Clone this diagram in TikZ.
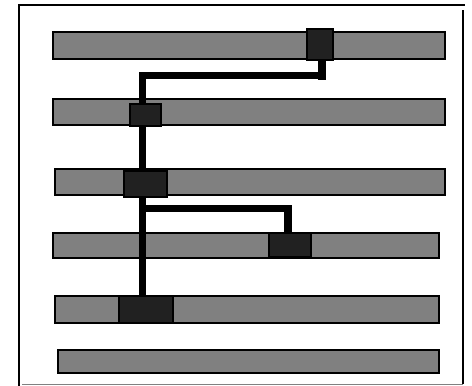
\documentclass[tikz,border=0pt]{standalone}
\pgfdeclarelayer{barlayer}
\pgfdeclarelayer{connlayer}
\pgfsetlayers{barlayer,connlayer,main}
\begin{document}
\begin{tikzpicture}[x=1pt,y=-1pt,
  bar/.style={draw=black,line width=2pt,fill=black!50,rectangle,inner sep=0pt,outer sep=0pt},
  blk/.style={draw=black,line width=2pt,fill=black!87,rectangle,inner sep=0pt,outer sep=0pt},
  conn/.style={draw=black,line width=7.5pt,line join=miter},
  frame/.style={draw=black,line width=2pt}]
\useasboundingbox (0,0) rectangle (472,386);
% frame
\draw[frame] (19,4) -- (19,386);
\draw[frame] (19,5) -- (465,5);
\draw[frame] (463,10) -- (463,384);
\draw[black!50,line width=1pt] (22,384) -- (463,384);
% bars
\begin{pgfonlayer}{barlayer}
\node[bar,minimum width=392pt,minimum height=27pt] (r1) at (249,45.5) {};
\node[bar,minimum width=392pt,minimum height=26.5pt] (r2) at (249,112) {};
\node[bar,minimum width=390pt,minimum height=26pt] (r3) at (250,182) {};
\node[bar,minimum width=386pt,minimum height=25pt] (r4) at (246,245.5) {};
\node[bar,minimum width=384pt,minimum height=27pt] (r5) at (247,309.5) {};
\node[bar,minimum width=381pt,minimum height=23pt] (r6) at (248.5,361.5) {};
\end{pgfonlayer}
% blocks
\node[blk,minimum width=26pt,minimum height=31pt] (b1) at (320,44.5) {};
\node[blk,minimum width=31pt,minimum height=22pt] (b2) at (145.5,115) {};
\node[blk,minimum width=43pt,minimum height=26pt] (b3) at (145.5,184) {};
\node[blk,minimum width=42pt,minimum height=24pt] (b4) at (290,245) {};
\node[blk,minimum width=54pt,minimum height=27pt] (b5) at (146,309.5) {};
% connector junctions
\coordinate (k1) at (322,75.5);
\coordinate (k1e) at (322,80);
\coordinate (k2) at (142.5,75.5);
\coordinate (k3) at (142.5,208.5);
\coordinate (k4) at (288,208.5);
% connectors
\begin{pgfonlayer}{connlayer}
\draw[conn] (b1.south -| k1) -- (k1e) (k1) -- (k2) -- (b2.north -| k2);
\draw[conn] (b2.south -| k2) -- (b3.north -| k2);
\draw[conn] (b3.south -| k3) -- (b5.north -| k3);
\draw[conn] (k3) -- (k4) -- (b4.north -| k4);
\end{pgfonlayer}
\end{tikzpicture}
\end{document}
